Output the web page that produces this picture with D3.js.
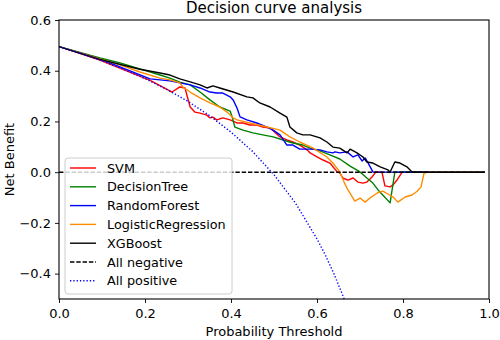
<!DOCTYPE html>
<html>
<head>
<meta charset="utf-8">
<script src="https://cdn.jsdelivr.net/npm/d3@7"></script>
<style>
  body { margin: 0; background: #fff; }
  svg text { font-family: "DejaVu Sans", sans-serif; fill: #000; }
</style>
</head>
<body>
<div id="chart"></div>
<script>
// net benefit curves: [threshold, net benefit]
const svmPts = [[0,0.495],[0.095,0.442],[0.212,0.362],[0.263,0.316],[0.281,0.336],[0.293,0.332],[0.305,0.257],[0.316,0.237],[0.328,0.233],[0.344,0.225],[0.351,0.214],[0.358,0.217],[0.367,0.206],[0.381,0.214],[0.398,0.206],[0.414,0.194],[0.428,0.194],[0.444,0.186],[0.46,0.186],[0.474,0.178],[0.491,0.174],[0.514,0.139],[0.53,0.127],[0.544,0.119],[0.56,0.107],[0.577,0.088],[0.584,0.076],[0.6,0.06],[0.614,0.048],[0.63,0.036],[0.647,0.001],[0.653,-0.003],[0.66,-0.023],[0.672,-0.031],[0.684,-0.023],[0.695,-0.039],[0.707,-0.043],[0.716,-0.039],[0.728,-0.019],[0.737,0.001],[0.751,0],[0.758,-0.054],[0.77,-0.058],[0.777,-0.05],[0.786,-0.031],[0.798,0],[0.99,0]];
const treePts = [[0,0.495],[0.095,0.45],[0.142,0.431],[0.188,0.407],[0.235,0.383],[0.258,0.371],[0.281,0.355],[0.305,0.344],[0.328,0.316],[0.351,0.285],[0.374,0.257],[0.398,0.241],[0.402,0.222],[0.409,0.178],[0.428,0.166],[0.451,0.155],[0.474,0.147],[0.498,0.139],[0.521,0.127],[0.544,0.115],[0.567,0.107],[0.584,0.095],[0.607,0.084],[0.63,0.068],[0.653,0.052],[0.677,0.024],[0.7,0.001],[0.716,-0.023],[0.73,-0.043],[0.742,-0.07],[0.753,-0.09],[0.77,-0.121],[0.781,0],[0.99,0]];
const forestPts = [[0,0.495],[0.095,0.447],[0.212,0.368],[0.235,0.364],[0.258,0.36],[0.281,0.352],[0.305,0.344],[0.328,0.332],[0.351,0.316],[0.367,0.312],[0.381,0.312],[0.398,0.297],[0.405,0.285],[0.414,0.253],[0.421,0.218],[0.437,0.206],[0.46,0.194],[0.484,0.178],[0.498,0.166],[0.514,0.147],[0.53,0.107],[0.544,0.107],[0.56,0.091],[0.584,0.091],[0.607,0.088],[0.623,0.08],[0.637,0.076],[0.642,0.08],[0.653,0.076],[0.67,0.08],[0.684,0.06],[0.695,0.068],[0.705,0.044],[0.712,0.056],[0.719,0.036],[0.73,0.001],[0.99,0]];
const logisticPts = [[0,0.495],[0.095,0.447],[0.142,0.423],[0.188,0.395],[0.235,0.371],[0.258,0.364],[0.281,0.352],[0.288,0.336],[0.305,0.316],[0.328,0.293],[0.351,0.273],[0.374,0.257],[0.391,0.237],[0.405,0.214],[0.414,0.206],[0.444,0.194],[0.484,0.178],[0.514,0.166],[0.537,0.139],[0.56,0.119],[0.591,0.095],[0.623,0.06],[0.637,0.036],[0.653,0.001],[0.663,-0.039],[0.672,-0.07],[0.688,-0.114],[0.7,-0.102],[0.712,-0.118],[0.723,-0.102],[0.74,-0.082],[0.753,-0.075],[0.765,-0.086],[0.777,-0.098],[0.788,-0.118],[0.805,-0.098],[0.821,-0.09],[0.833,-0.075],[0.842,-0.058],[0.849,-0.003],[0.86,0],[0.99,0]];
const xgbPts = [[0,0.495],[0.095,0.445],[0.188,0.406],[0.235,0.391],[0.258,0.383],[0.281,0.368],[0.305,0.356],[0.328,0.344],[0.344,0.332],[0.358,0.34],[0.374,0.332],[0.405,0.316],[0.437,0.297],[0.451,0.293],[0.467,0.273],[0.491,0.257],[0.514,0.233],[0.53,0.217],[0.537,0.178],[0.553,0.155],[0.567,0.147],[0.584,0.147],[0.607,0.135],[0.623,0.119],[0.637,0.099],[0.653,0.095],[0.67,0.076],[0.677,0.091],[0.693,0.076],[0.707,0.06],[0.716,0.04],[0.73,0.036],[0.747,0.021],[0.765,0.009],[0.77,0.001],[0.781,0.04],[0.793,0.036],[0.809,0.021],[0.821,0.001],[0.828,0],[0.99,0]];
const allNegPts = [[0,0],[0.99,0]];
const allPosPts = [[0,0.495],[0.05,0.468],[0.1,0.439],[0.15,0.406],[0.2,0.369],[0.25,0.327],[0.3,0.279],[0.35,0.223],[0.4,0.158],[0.45,0.082],[0.5,-0.01],[0.55,-0.122],[0.6,-0.263],[0.62,-0.329],[0.64,-0.403],[0.66,-0.486],[0.68,-0.578]];

const seriesNames = ["SVM", "DecisionTree", "RandomForest", "LogisticRegression", "XGBoost", "All negative", "All positive"];
const xTicks = [0, 0.2, 0.4, 0.6, 0.8, 1.0];
const yTicks = [-0.4, -0.2, 0, 0.2, 0.4, 0.6];

const series = [
    {name: seriesNames[0], pts: svmPts, color: "#ff0000", dash: null},
    {name: seriesNames[1], pts: treePts, color: "#008000", dash: null},
    {name: seriesNames[2], pts: forestPts, color: "#0000ff", dash: null},
    {name: seriesNames[3], pts: logisticPts, color: "#ff8c00", dash: null},
    {name: seriesNames[4], pts: xgbPts, color: "#000000", dash: null},
    {name: seriesNames[5], pts: allNegPts, color: "#000000", dash: "4.4,1.9"},
    {name: seriesNames[6], pts: allPosPts, color: "#0000ff", dash: "1.3,2"}
];

const W = 500, H = 340;
const margin = {top: 20, right: 11, bottom: 41, left: 59};
const width = W - margin.left - margin.right,
    height = H - margin.top - margin.bottom;

const svg = d3.select("#chart").append("svg")
    .attr("width", W)
    .attr("height", H);

const g = svg.append("g")
    .attr("transform", "translate(" + margin.left + "," + margin.top + ")");

const x = d3.scaleLinear().domain([0, 1]).range([0, width]);
const y = d3.scaleLinear().domain([-0.5, 0.6]).range([height, 0]);

g.append("clipPath").attr("id", "plot-clip")
    .append("rect").attr("width", width).attr("height", height);

// axes
const xAxis = d3.axisBottom(x).tickValues(xTicks).tickFormat(d3.format(".1f")).tickSize(4).tickSizeOuter(0);
const yAxis = d3.axisLeft(y).tickValues(yTicks).tickFormat(d => d3.format(".1f")(d).replace("-", "\u2212")).tickSize(4).tickSizeOuter(0);

g.append("g").attr("class", "x-axis")
    .attr("transform", "translate(0," + height + ")")
    .call(xAxis)
    .call(a => a.select(".domain").remove())
    .selectAll("text").attr("font-size", 13).attr("dy", 0).attr("y", 19);

g.append("g").attr("class", "y-axis")
    .call(yAxis)
    .call(a => a.select(".domain").remove())
    .selectAll("text").attr("font-size", 13).attr("x", -8);

g.selectAll(".tick line").attr("stroke", "#000").attr("stroke-width", 0.9);

// curves
const line = d3.line().x(d => x(d[0])).y(d => y(d[1]));

g.append("g").attr("clip-path", "url(#plot-clip)")
    .selectAll("path")
    .data(series)
    .enter().append("path")
    .attr("d", d => line(d.pts))
    .attr("fill", "none")
    .attr("stroke", d => d.color)
    .attr("stroke-width", 1.4)
    .attr("stroke-dasharray", d => d.dash)
    .attr("stroke-linejoin", "round");

// frame
g.append("rect")
    .attr("width", width).attr("height", height)
    .attr("fill", "none").attr("stroke", "#000").attr("stroke-width", 1.1);

// legend
const leg = g.append("g").attr("transform", "translate(6,138)");
leg.append("rect")
    .attr("width", 167).attr("height", 136)
    .attr("rx", 3)
    .attr("fill", "#fff").attr("fill-opacity", 0.8)
    .attr("stroke", "#cccccc").attr("stroke-width", 1);

const items = leg.selectAll(".item").data(series).enter().append("g")
    .attr("class", "item")
    .attr("transform", (d, i) => "translate(0," + (10 + i * 18.8) + ")");

items.append("line")
    .attr("x1", 5).attr("x2", 31)
    .attr("stroke", d => d.color)
    .attr("stroke-width", 1.4)
    .attr("stroke-dasharray", d => d.dash);

items.append("text")
    .attr("x", 42).attr("dy", "0.36em")
    .attr("font-size", 12.8)
    .text(d => d.name);

// titles
svg.append("text")
    .attr("x", margin.left + width / 2).attr("y", 13)
    .attr("text-anchor", "middle").attr("font-size", 15)
    .text("Decision curve analysis");

svg.append("text")
    .attr("x", margin.left + width / 2).attr("y", 336)
    .attr("text-anchor", "middle").attr("font-size", 13)
    .text("Probability Threshold");

svg.append("text")
    .attr("transform", "translate(14," + (margin.top + height / 2) + ") rotate(-90)")
    .attr("text-anchor", "middle").attr("font-size", 13)
    .text("Net Benefit");
</script>
</body>
</html>
